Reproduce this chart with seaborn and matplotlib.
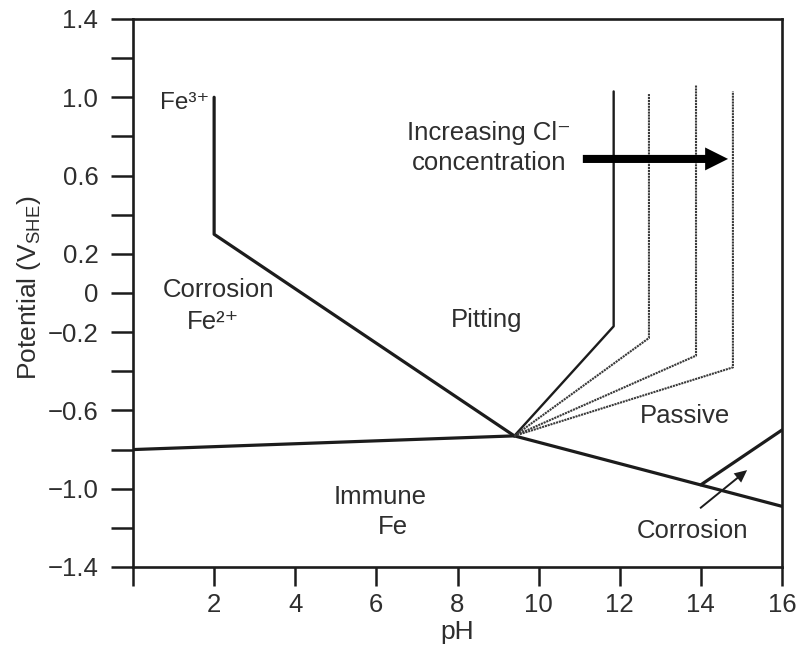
import matplotlib
matplotlib.use("Agg")
import matplotlib.pyplot as plt
import seaborn as sns
import numpy as np

# ---------------- data (pH, potential V vs SHE) ----------------
fe3_ph = [2.0, 2.0, 9.4]
fe3_v = [1.0, 0.30, -0.73]

immune_ph = [0.0, 9.4]
immune_v = [-0.80, -0.73]

passive_ph = [9.4, 16.0]
passive_v = [-0.73, -1.09]

corr_ph = [14.0, 16.0]
corr_v = [-0.98, -0.70]

junction_ph = 9.4
junction_v = -0.73
pit_ph = [11.85, 12.72, 13.88, 14.79]
pit_bend_v = [-0.17, -0.23, -0.32, -0.38]
pit_top_v = [1.03, 1.02, 1.06, 1.03]

y_ticks = [1.4, 1.2, 1.0, 0.8, 0.6, 0.4, 0.2, 0.0, -0.2, -0.4, -0.6, -0.8, -1.0, -1.2, -1.4]
y_ticklabels = ["1.4", "", "1.0", "", "0.6", "", "0.2", "0", "\u22120.2", "", "\u22120.6", "", "\u22121.0", "", "\u22121.4"]
x_ticks = [0, 2, 4, 6, 8, 10, 12, 14, 16]
x_ticklabels = ["", "2", "4", "6", "8", "10", "12", "14", "16"]

# ---------------- style ----------------
sns.set_style("ticks")
plt.rcParams["font.family"] = ["Liberation Sans", "DejaVu Sans"]
plt.rcParams["mathtext.fontset"] = "custom"
plt.rcParams["mathtext.rm"] = "Liberation Sans"
plt.rcParams["mathtext.it"] = "Liberation Sans:italic"

LC = "#1c1c1c"
TC = "#2e2e2e"
FS = 18.5

fig = plt.figure(figsize=(7.98, 6.52), dpi=100)
ax = fig.add_axes([133 / 798, 1 - 567 / 652, (782 - 133) / 798, (567 - 19) / 652])

# boundary lines
for xs, ys in [(fe3_ph, fe3_v), (immune_ph, immune_v), (passive_ph, passive_v), (corr_ph, corr_v)]:
    sns.lineplot(x=xs, y=ys, sort=False, estimator=None, color=LC, lw=2.3, ax=ax)

# pitting lines
for i, (p, b, t) in enumerate(zip(pit_ph, pit_bend_v, pit_top_v)):
    xs = [junction_ph, p, p]
    ys = [junction_v, b, t]
    if i == 0:
        sns.lineplot(x=xs, y=ys, sort=False, estimator=None, color=LC, lw=1.7, ax=ax)
    else:
        sns.lineplot(x=xs, y=ys, sort=False, estimator=None, color="#3a3a3a", lw=1.5,
                     linestyle=(0, (1.0, 0.4)), ax=ax)

ax.set_xlim(0, 16)
ax.set_ylim(-1.4, 1.4)
ax.set_xticks(x_ticks)
ax.set_xticklabels(x_ticklabels)
ax.set_yticks(y_ticks)
ax.set_yticklabels(y_ticklabels)

for s in ["left", "bottom", "right", "top"]:
    ax.spines[s].set_visible(True)
    ax.spines[s].set_linewidth(1.9)
    ax.spines[s].set_color(LC)

ax.tick_params(axis="y", direction="out", length=16, width=1.8, pad=9, labelsize=FS,
               color=LC, labelcolor=TC)
ax.tick_params(axis="x", direction="out", length=14, width=1.8, pad=5, labelsize=FS,
               color=LC, labelcolor=TC)

ax.set_xlabel("pH", fontsize=FS + 0.5, color=TC, labelpad=2)
ax.set_ylabel(r"Potential (V$_{\mathrm{SHE}}$)", fontsize=FS + 0.5, color=TC)
ax.yaxis.set_label_coords(-0.138, 0.51)

# region labels
ax.text(1.88, 0.97, "Fe\u00b3\u207a", ha="right", va="center", fontsize=FS - 1, color=TC)
ax.text(2.1, 0.015, "Corrosion", ha="center", va="center", fontsize=FS, color=TC)
ax.text(1.97, -0.15, "Fe\u00b2\u207a", ha="center", va="center", fontsize=FS, color=TC)
ax.text(8.73, -0.14, "Pitting", ha="center", va="center", fontsize=FS, color=TC)
ax.text(6.1, -1.04, "Immune", ha="center", va="center", fontsize=FS, color=TC)
ax.text(6.4, -1.196, "Fe", ha="center", va="center", fontsize=FS, color=TC)
ax.text(13.6, -0.63, "Passive", ha="center", va="center", fontsize=FS, color=TC)
ax.text(13.8, -1.216, "Corrosion", ha="center", va="center", fontsize=FS, color=TC)
ax.text(8.78, 0.817, "Increasing Cl\u207b", ha="center", va="center", fontsize=FS, color=TC)
ax.text(8.78, 0.664, "concentration", ha="center", va="center", fontsize=FS, color=TC)

# arrows
ax.annotate("", xy=(14.67, 0.685), xytext=(11.09, 0.685),
            arrowprops=dict(arrowstyle="simple,head_length=16.5,head_width=16.5,tail_width=5.8",
                            mutation_scale=1, shrinkA=0, shrinkB=0, fc="black", ec="none", lw=0))
ax.annotate("", xy=(15.14, -0.905), xytext=(13.98, -1.10),
            arrowprops=dict(arrowstyle="simple,head_length=9,head_width=8.5,tail_width=1.4",
                            mutation_scale=1, shrinkA=0, shrinkB=0, fc="#1c1c1c", ec="none", lw=0))

fig.savefig("out.png", dpi=100)
